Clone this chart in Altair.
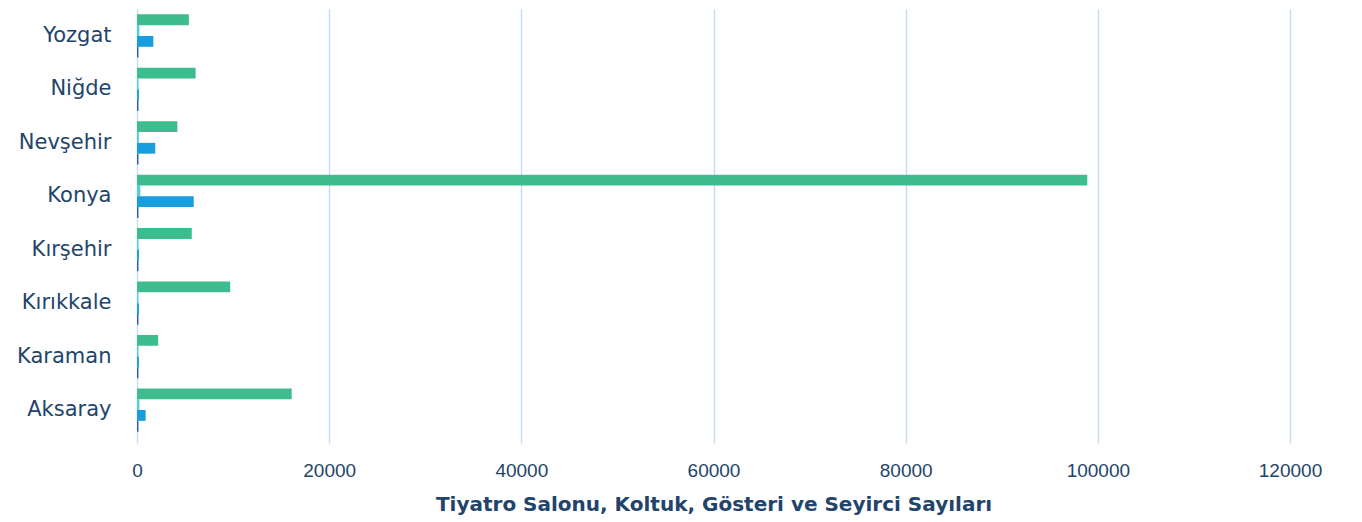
import altair as alt
import pandas as pd

provinces = ["Yozgat", "Niğde", "Nevşehir", "Konya", "Kırşehir", "Kırıkkale", "Karaman", "Aksaray"]
series = ["Seyirci", "Gösteri", "Koltuk", "Tiyatro Salonu"]
seyirci = [5400, 6100, 4200, 98900, 5700, 9700, 2200, 16100]
gosteri = [250, 150, 200, 350, 150, 150, 150, 250]
koltuk = [1700, 200, 1900, 5900, 200, 200, 200, 900]
salon = [150, 150, 150, 150, 150, 150, 150, 150]
colors = ["#3dbd8f", "#4fd0d6", "#1a9ddd", "#2d5fae"]
x_ticks = [0, 20000, 40000, 60000, 80000, 100000, 120000]

rows = []
for i, p in enumerate(provinces):
    for s, vals in zip(series, [seyirci, gosteri, koltuk, salon]):
        rows.append({"İl": p, "Seri": s, "Değer": vals[i]})
df = pd.DataFrame(rows)

text_color = "#23446a"

chart = alt.Chart(df).mark_bar().encode(
    y=alt.Y("İl:N", sort=provinces,
            scale=alt.Scale(paddingInner=0.19, paddingOuter=0.1),
            axis=alt.Axis(title=None, ticks=False, domain=False, labelFontSize=21,
                          labelFont="DejaVu Sans", labelColor=text_color, labelPadding=26)),
    yOffset=alt.YOffset("Seri:N", sort=series, scale=alt.Scale(paddingInner=0, paddingOuter=0)),
    x=alt.X("Değer:Q", scale=alt.Scale(domain=[0, 120000], nice=False),
            axis=alt.Axis(title="Tiyatro Salonu,  Koltuk, Gösteri ve Seyirci Sayıları",
                          values=x_ticks, format="d", domain=False, labelFlush=False,
                          grid=True, gridColor="#c8def2", gridWidth=1.5,
                          tickColor="#c8def2", tickSize=6, tickWidth=1.5,
                          labelFont="Liberation Sans", labelFontSize=19, labelColor=text_color,
                          labelPadding=18,
                          titleFont="DejaVu Sans", titleFontSize=20, titleFontWeight="bold",
                          titleColor=text_color, titlePadding=14)),
    color=alt.Color("Seri:N", sort=series, scale=alt.Scale(domain=series, range=colors), legend=None),
).properties(
    width=1153, height=428,
    autosize=alt.AutoSizeParams(type="none"),
    padding={"left": 129, "top": 1, "right": 60, "bottom": 90},
).configure_view(stroke=None)

chart.save("out.html", embed_options={"renderer": "svg", "actions": False})
